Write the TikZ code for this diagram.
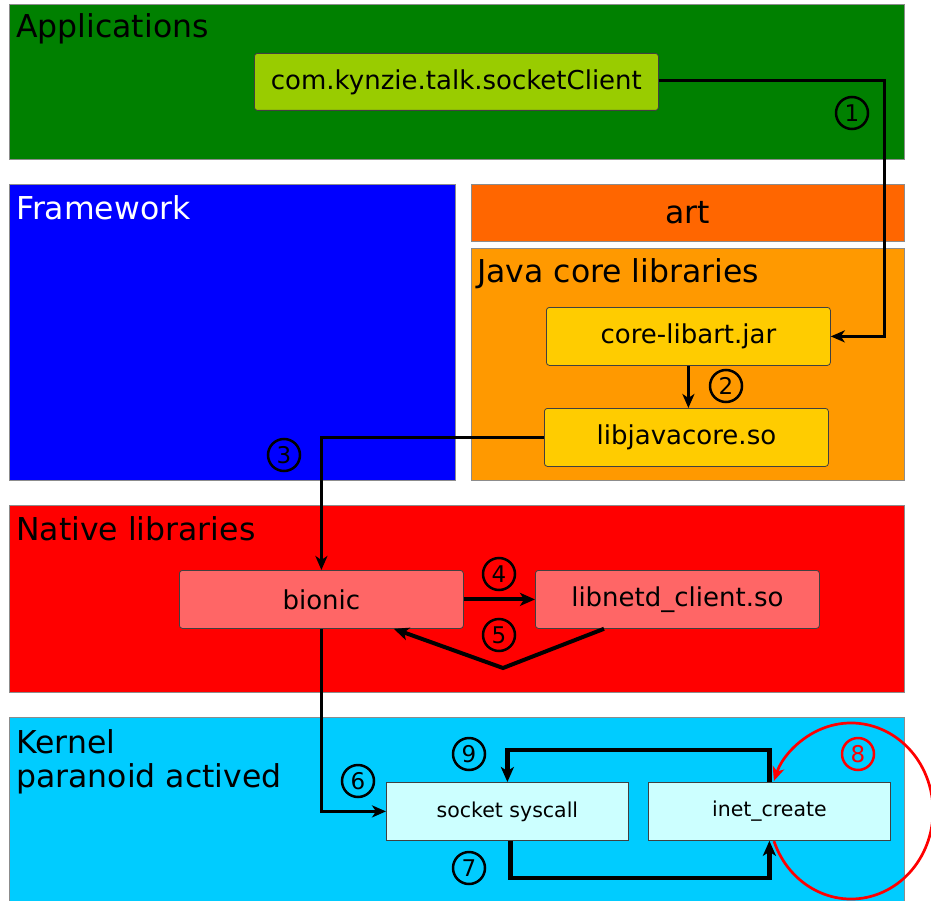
\documentclass[tikz,border=0pt]{standalone}
\usepackage{fontspec}
\setmainfont{DejaVu Sans}
\usetikzlibrary{arrows.meta,calc}

\definecolor{appgreen}{HTML}{008000}
\definecolor{appnode}{HTML}{99CC00}
\definecolor{fwblue}{HTML}{0000FF}
\definecolor{artorange}{HTML}{FF6600}
\definecolor{javaorange}{HTML}{FF9900}
\definecolor{javanode}{HTML}{FFCC00}
\definecolor{nativered}{HTML}{FF0000}
\definecolor{nativenode}{HTML}{FF6666}
\definecolor{kernelblue}{HTML}{00CCFF}
\definecolor{kernelnode}{HTML}{CCFFFF}

\tikzset{
  layer/.style={draw=black!45, line width=0.7pt, anchor=north west, inner sep=0pt},
  layertitle/.style={anchor=base west, inner sep=0pt, font=\fontsize{31.5}{36}\selectfont},
  libbox/.style={draw=black!75, line width=0.8pt, rounded corners=3pt, anchor=north west,
    inner sep=0pt, font=\fontsize{26}{30}\selectfont},
  kbox/.style={draw=black!75, line width=0.8pt, anchor=north west, inner sep=0pt,
    font=\fontsize{20.5}{24}\selectfont},
  flow/.style={line width=3pt, -{Stealth[length=14pt,width=12pt,inset=4pt]}},
  heavyflow/.style={line width=4.5pt, -{Stealth[length=15pt,width=13pt,inset=4pt]}},
  stepnum/.style={circle, draw, line width=2.5pt, minimum size=32pt, inner sep=0pt,
    font=\fontsize{23}{26}\selectfont},
}

\begin{document}
\begin{tikzpicture}[x=1pt, y=-1pt]
  \clip (0,0) rectangle (931,901);
  \fill[white] (0,0) rectangle (931,901);

  % layers
  \node[layer, fill=appgreen, minimum width=895pt, minimum height=155pt] (apps) at (9,4) {};
  \node[layer, fill=fwblue, minimum width=446pt, minimum height=296pt] (fw) at (9,184) {};
  \node[layer, fill=artorange, minimum width=433pt, minimum height=57pt] (art) at (471,184) {};
  \node[layer, fill=javaorange, minimum width=433pt, minimum height=232pt] (java) at (471,248) {};
  \node[layer, fill=nativered, minimum width=895pt, minimum height=187pt] (native) at (9,505) {};
  \node[layer, fill=kernelblue, minimum width=895pt, minimum height=184pt] (kernel) at (9,717) {};

  % layer titles
  \node[layertitle] (appsT) at (16,38) {Applications};
  \node[layertitle, text=white] (fwT) at (16,220) {Framework};
  \node[font=\fontsize{31.5}{36}\selectfont, inner sep=0pt] (artT) at (art.center) {art};
  \node[layertitle] (javaT) at (477,283) {Java core libraries};
  \node[layertitle] (nativeT) at (16,540) {Native libraries};
  \node[layertitle] (kernelT) at (16,753) {Kernel};
  \node[layertitle] (kernelT2) at (16,787) {paranoid actived};

  % components
  \node[libbox, fill=appnode, minimum width=404pt, minimum height=57pt] (client) at (254,53) {com.kynzie.talk.socketClient};
  \node[libbox, fill=javanode, minimum width=284pt, minimum height=58pt] (core) at (546,307) {core-libart.jar};
  \node[libbox, fill=javanode, minimum width=284pt, minimum height=58pt] (jni) at (544,408) {libjavacore.so};
  \node[libbox, fill=nativenode, minimum width=284pt, minimum height=58pt] (bionic) at (179,570) {bionic};
  \node[libbox, fill=nativenode, minimum width=284pt, minimum height=58pt] (netd) at (535,570) {libnetd\_client.so};
  \node[kbox, fill=kernelnode, minimum width=242pt, minimum height=58pt] (sock) at (386,782) {socket syscall};
  \node[kbox, fill=kernelnode, minimum width=242pt, minimum height=58pt] (inet) at (648,782) {inet\_create};

  % call path
  \coordinate (turn1) at (884,81);
  \draw[flow] (client.east |- turn1) -- (turn1) |- (core.east);
  \draw[flow] (core.south) -- (core.south |- jni.north);
  \draw[flow] (jni.west) -| (bionic.north);
  \draw[heavyflow, line width=4pt] (bionic.east) -- (netd.west);
  \coordinate (dip) at (503,668);
  \draw[heavyflow, line width=4pt] ($(netd.south west)+(69,0)$) -- (dip) -- ($(bionic.south east)+(-70,0)$);
  \draw[flow] (bionic.south) |- (sock.west);
  \draw[heavyflow] ($(sock.south)+(3,0)$) -- ++(0,37) -| (inet.south);
  \draw[heavyflow] (inet.north) -- ++(0,-32) -| (sock.north);

  % inet_create loop (angles and radii in page units)
  \coordinate (loopc) at (851,811);
  \draw[red, line width=2.7pt, -{Stealth[length=14pt,width=12pt,inset=4pt]}]
    (loopc) ++(-160:82pt and 88pt) arc[start angle=-160, end angle=160, x radius=82pt, y radius=88pt];

  % step numbers
  \node[stepnum] (n1) at (852,113) {1};
  \node[stepnum] (n2) at (726,386) {2};
  \node[stepnum] (n3) at (284,455) {3};
  \node[stepnum] (n4) at (499,574) {4};
  \node[stepnum] (n5) at (499,635) {5};
  \node[stepnum] (n6) at (358,781) {6};
  \node[stepnum] (n7) at (469,868) {7};
  \node[stepnum, draw=red, text=red] (n8) at (858,754) {8};
  \node[stepnum] (n9) at (469,754) {9};
\end{tikzpicture}
\end{document}
